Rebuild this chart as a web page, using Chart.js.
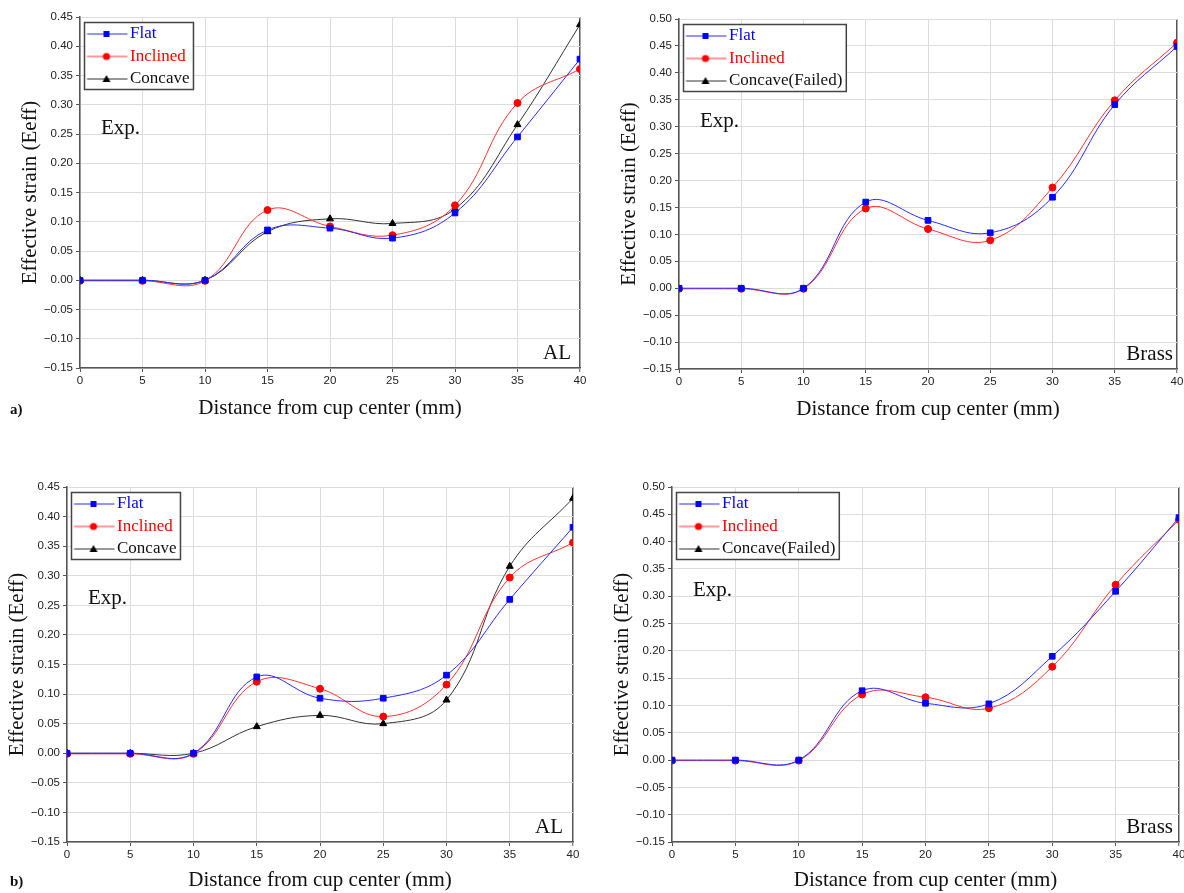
<!DOCTYPE html>
<html lang="en"><head>
<meta charset="utf-8">
<title>Effective strain vs distance from cup center</title>
<script src="https://cdn.jsdelivr.net/npm/chart.js@4"></script>
<style>
*{box-sizing:border-box;margin:0;padding:0}
html,body{width:1184px;height:893px;overflow:hidden;background:#fff}
canvas{position:absolute}
.tag{position:absolute;left:10px;font:bold 15px "Liberation Serif",serif;color:#111}
</style></head><body>
<canvas id="c-a-al" width="592" height="430" style="left:0;top:0"></canvas>
<canvas id="c-a-brass" width="600" height="430" style="left:592px;top:0"></canvas>
<canvas id="c-b-al" width="592" height="453" style="left:0;top:440px"></canvas>
<canvas id="c-b-brass" width="600" height="453" style="left:592px;top:440px"></canvas>
<div class="tag" style="top:401px">a)</div>
<div class="tag" style="top:873px">b)</div>
<script>
const distance=[0,5,10,15,20,25,30,35,40];
const xTicks={min:0,max:40,step:5};
const yTicksAL={min:-0.15,max:0.45,step:0.05};
const yTicksBrass={min:-0.15,max:0.50,step:0.05};
const seriesNames=['Flat','Inclined','Concave'];
const seriesNamesBrass=['Flat','Inclined','Concave(Failed)'];
// a) AL
const alFlatA=[0,0,0,0.086,0.089,0.072,0.115,0.245,0.378];
const alInclinedA=[-0.001,-0.001,-0.001,0.120,0.092,0.077,0.128,0.303,0.361];
const alConcaveA=[0,0,0,0.083,0.105,0.097,0.122,0.266,0.437];
// a) Brass
const brFlatA=[0,0,0,0.160,0.126,0.103,0.169,0.341,0.449];
const brInclinedA=[-0.001,-0.001,-0.001,0.148,0.110,0.089,0.187,0.349,0.456];
const brConcaveA=[];
// b) AL
const alFlatB=[0,0,0,0.129,0.093,0.093,0.132,0.260,0.382];
const alInclinedB=[-0.001,-0.001,-0.001,0.121,0.109,0.062,0.116,0.297,0.356];
const alConcaveB=[0,0,0,0.045,0.064,0.050,0.090,0.316,0.431];
// b) Brass
const brFlatB=[0,0,0,0.127,0.104,0.103,0.190,0.309,0.444];
const brInclinedB=[-0.001,-0.001,-0.001,0.120,0.115,0.095,0.171,0.321,0.440];
const brConcaveB=[];

Chart.defaults.font.family='"Liberation Sans", Arial, sans-serif';
Chart.defaults.color='#222';
const serif='"Liberation Serif", "Times New Roman", serif';
const styles=[
  {mark:'#0000ff',line:'#2a2aff',text:'#0000ff',shape:'rect',r:4},
  {mark:'#ff0000',line:'#ff3030',text:'#ff0000',shape:'circle',r:3.5},
  {mark:'#000000',line:'#333333',text:'#111111',shape:'triangle',r:4}
];

// little line+marker picture for each legend row
function legendSymbol(s){
  const c=document.createElement('canvas');c.width=50;c.height=18;
  const g=c.getContext('2d');
  g.strokeStyle=s.line;g.lineWidth=1;
  g.beginPath();g.moveTo(8.5,9);g.lineTo(49,9);g.stroke();
  g.fillStyle=s.mark;g.beginPath();
  if(s.shape==='rect')g.rect(25,6,6,6);
  else if(s.shape==='circle')g.arc(28,9,3.6,0,Math.PI*2);
  else{g.moveTo(28,5);g.lineTo(32,12);g.lineTo(24,12);g.closePath();}
  g.fill();
  return c;
}
const symbols=styles.map(legendSymbol);

function fmt(v){const s=Math.abs(v)<1e-9?'0.00':v.toFixed(2);return s.replace('-','\u2212');}

function makeSets(names,cols){
  return cols.map((ys,i)=>({
    label:names[i],
    data:ys.map((y,j)=>({x:distance[j],y})),
    borderColor:styles[i].line,backgroundColor:styles[i].mark,
    pointBackgroundColor:styles[i].mark,pointBorderColor:styles[i].mark,
    pointStyle:styles[i].shape,pointRadius:styles[i].r,pointBorderWidth:1,
    borderWidth:1,tension:0.4,clip:0
  }));
}

const legendFrame={
  id:'legendFrame',
  beforeDraw(chart){
    const lg=chart.legend,a=chart.chartArea;
    lg.left=a.left;lg.right=a.right;lg.top=a.top+3;lg.bottom=a.bottom;
  },
  afterDatasetsDraw(chart){
    const a=chart.chartArea,ctx=chart.ctx;
    ctx.save();
    ctx.font='17px '+serif;
    const tw=Math.max(...chart.data.datasets.map(d=>ctx.measureText(d.label).width));
    const x0=a.left+4.5,y0=a.top+5.5,x1=a.left+50+tw+4,y1=a.top+72.5;
    ctx.fillStyle='#fff';ctx.fillRect(x0,y0,x1-x0,y1-y0);
    ctx.strokeStyle='#444';ctx.lineWidth=1.5;ctx.strokeRect(x0,y0,x1-x0,y1-y0);
    ctx.restore();
    chart.legend.draw(a);
  }
};
const notes={
  id:'notes',
  afterDraw(chart,args,o){
    const a=chart.chartArea,ctx=chart.ctx;
    ctx.save();
    ctx.font='21px '+serif;ctx.fillStyle='#111';ctx.textBaseline='alphabetic';
    ctx.textAlign='left';ctx.fillText('Exp.',a.left+21,a.top+o.expY);
    ctx.textAlign='right';ctx.fillText(o.tag,a.right-o.tagRight,a.bottom-9);
    ctx.restore();
  }
};

function panel(id,P,yT,names,cols){
  const cw=P.w,ch=P.h;
  new Chart(document.getElementById(id),{
    type:'line',
    data:{datasets:makeSets(names,cols)},
    plugins:[legendFrame,notes],
    options:{
      responsive:false,animation:false,devicePixelRatio:1,
      layout:{padding:{left:0,bottom:0,top:P.T-P.top,right:P.left+cw-P.R}},
      plugins:{
        tooltip:{enabled:false},
        notes:{expY:P.expY,tag:P.tag,tagRight:P.tagRight},
        legend:{position:'chartArea',align:'start',
          labels:{usePointStyle:true,pointStyleWidth:36,padding:5.5,
            font:{family:serif,size:17},
            generateLabels:c=>c.data.datasets.map((d,i)=>({
              text:d.label,fontColor:styles[i].text,pointStyle:symbols[i],
              datasetIndex:i,hidden:false,lineWidth:0}))}}
      },
      scales:{
        x:{type:'linear',min:xTicks.min,max:xTicks.max,
          afterFit:s=>{s.height=P.top+ch-P.B;},
          ticks:{stepSize:xTicks.step,maxRotation:0,padding:2,font:{size:11.5},color:'#222'},
          grid:{color:c=>c.tick&&c.tick.value===xTicks.max?'#555':'#dcdcdc',
            lineWidth:c=>c.tick&&c.tick.value===xTicks.max?1.5:1,
            tickLength:4,tickColor:'#555',tickWidth:1},
          border:{color:'#555',width:1.5},
          title:{display:true,text:'Distance from cup center (mm)',color:'#111',
            font:{family:serif,size:21},padding:{top:0,bottom:P.top+ch-P.titleY-12.6}}},
        y:{min:yT.min,max:yT.max,
          afterFit:s=>{s.width=P.L-P.left;},
          ticks:{stepSize:yT.step,padding:3,font:{size:11.5},color:'#222',callback:fmt},
          grid:{color:'#dcdcdc',lineWidth:1,tickLength:4,tickColor:'#555',tickWidth:1},
          border:{color:'#555',width:1.5},
          title:{display:true,text:'Effective strain (Eeff)',color:'#111',
            font:{family:serif,size:21},padding:{top:P.L-50-P.left-12.6,bottom:0}}}
      }
    }
  });
}

panel('c-a-al',{left:0,top:0,w:592,h:430,L:80,T:17,R:580,B:368,titleY:408,expY:117,tag:'AL',tagRight:9},
  yTicksAL,seriesNames,[alFlatA,alInclinedA,alConcaveA]);
panel('c-a-brass',{left:592,top:0,w:600,h:430,L:679,T:19,R:1177,B:369,titleY:409,expY:108,tag:'Brass',tagRight:4},
  yTicksBrass,seriesNamesBrass,[brFlatA,brInclinedA,brConcaveA]);
panel('c-b-al',{left:0,top:440,w:592,h:453,L:67,T:487,R:573,B:842,titleY:880,expY:117,tag:'AL',tagRight:10},
  yTicksAL,seriesNames,[alFlatB,alInclinedB,alConcaveB]);
panel('c-b-brass',{left:592,top:440,w:600,h:453,L:672,T:487,R:1179,B:842,titleY:880,expY:109,tag:'Brass',tagRight:6},
  yTicksBrass,seriesNamesBrass,[brFlatB,brInclinedB,brConcaveB]);
</script></body></html>
